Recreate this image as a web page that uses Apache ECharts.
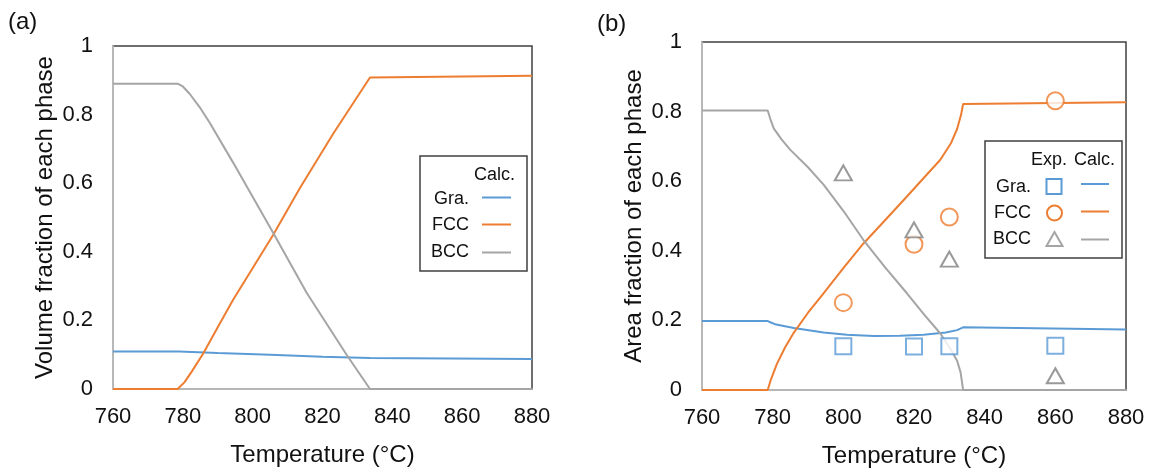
<!DOCTYPE html>
<html>
<head>
<meta charset="utf-8">
<script src="https://cdn.jsdelivr.net/npm/echarts@6/dist/echarts.min.js"></script>
<style>
  html, body { margin: 0; padding: 0; background: #fff; }
  #chart { width: 1151px; height: 475px; }
</style>
</head>
<body>
<div id="chart"></div>
<script>
// calculated curves, [temperature, fraction]
var calcGraA = [[760, 0.109], [779, 0.109], [790, 0.105], [805, 0.1], [820, 0.094], [833.6, 0.0905], [880, 0.0875]];
var calcFccA = [[760, 0], [778.5, 0], [780.5, 0.02], [782.5, 0.05], [785.8, 0.103], [790, 0.18], [794.4, 0.26], [805.9, 0.45], [813.5, 0.585], [823.1, 0.745], [833.6, 0.908], [880, 0.913]];
var calcBccA = [[760, 0.89], [778.5, 0.89], [780, 0.882], [782, 0.86], [784.8, 0.822], [787.7, 0.776], [794.4, 0.66], [805.9, 0.455], [815.5, 0.28], [826.9, 0.1], [833.6, 0], [880, 0]];

var calcGraB = [[760, 0.198], [778.6, 0.198], [779.5, 0.194], [781, 0.188], [786, 0.178], [794.4, 0.165], [801, 0.159], [808.6, 0.155], [816, 0.156], [822.7, 0.159], [829, 0.165], [832.2, 0.172], [833.9, 0.18], [880, 0.174]];
var calcFccB = [[760, 0], [778.6, 0], [779.5, 0.03], [781.2, 0.075], [783.5, 0.122], [786, 0.165], [790, 0.222], [794.4, 0.278], [800, 0.35], [805.7, 0.421], [812, 0.49], [818, 0.556], [823, 0.612], [827.4, 0.661], [830.5, 0.71], [832.2, 0.75], [833.3, 0.79], [833.9, 0.822], [880, 0.827]];
var calcBccB = [[760, 0.803], [778.6, 0.803], [779.3, 0.78], [780.3, 0.752], [782.5, 0.72], [785, 0.69], [790, 0.64], [794.4, 0.59], [800, 0.515], [805.7, 0.431], [812, 0.35], [818, 0.278], [823, 0.215], [827.4, 0.163], [830.5, 0.115], [832.2, 0.084], [833.2, 0.05], [833.9, 0], [880, 0]];

// experimental points
var expTemp = [800, 820, 830, 860];
var expGra = [0.126, 0.125, 0.126, 0.127];
var expFcc = [0.251, 0.419, 0.497, 0.831];
var expBcc = [0.624, 0.46, 0.376, 0.041];

var tempTicks = [760, 780, 800, 820, 840, 860, 880];

var blue = '#5b9bd5', orange = '#ed7d31', gray = '#a5a5a5', triGray = '#7f7f7f';
var font = 'Liberation Sans, Arial, sans-serif';

function pairs(xs, ys) {
  var out = [];
  for (var i = 0; i < xs.length; i++) out.push([xs[i], ys[i]]);
  return out;
}

function xAxisCfg(idx) {
  return {
    gridIndex: idx, type: 'value',
    min: tempTicks[0], max: tempTicks[tempTicks.length - 1], interval: 20,
    name: 'Temperature (°C)', nameLocation: 'middle', nameGap: 54,
    nameTextStyle: { fontFamily: font, fontSize: 24, color: '#111' },
    axisLine: { lineStyle: { color: '#d0d0d0', width: 1.5 } },
    axisTick: { show: false },
    splitLine: { show: false },
    axisLabel: { fontFamily: font, fontSize: 22, color: '#111', margin: 17 }
  };
}
function yAxisCfg(idx, title) {
  return {
    gridIndex: idx, type: 'value', min: 0, max: 1, interval: 0.2,
    name: title, nameLocation: 'middle', nameGap: 56,
    nameTextStyle: { fontFamily: font, fontSize: 24, color: '#111' },
    axisLine: { show: true, lineStyle: { color: '#d0d0d0', width: 1.5 } },
    axisTick: { show: false },
    splitLine: { show: false },
    axisLabel: { fontFamily: font, fontSize: 22, color: '#111', margin: 20 }
  };
}
function lineSeries(name, idx, data, color) {
  return {
    name: name, type: 'line', xAxisIndex: idx, yAxisIndex: idx,
    data: data, showSymbol: false, symbol: 'none',
    lineStyle: { color: color, width: 2 }, z: 2
  };
}
function expSeries(name, ys, symbol, size, color) {
  return {
    name: name, type: 'scatter', xAxisIndex: 1, yAxisIndex: 1,
    data: pairs(expTemp, ys), symbol: symbol, symbolSize: size,
    itemStyle: { color: '#fff', borderColor: color, borderWidth: 2 }, z: 5
  };
}

function txt(x, y, s) {
  return { type: 'text', x: x, y: y, z: 20, style: { text: s, fontFamily: font, fontSize: 18, fill: '#111', align: 'right', verticalAlign: 'middle' } };
}
function seg(x1, x2, y, color) {
  return { type: 'line', z: 20, shape: { x1: x1, y1: y, x2: x2, y2: y }, style: { stroke: color, lineWidth: 2 } };
}

var chart = echarts.init(document.getElementById('chart'));
var option = {
  animation: false,
  backgroundColor: '#fff',
  grid: [
    { left: 113, right: 619, top: 46, bottom: 86, show: true, borderColor: '#404040', borderWidth: 1.5 },
    { left: 702, right: 25, top: 42, bottom: 85, show: true, borderColor: '#404040', borderWidth: 1.5 }
  ],
  xAxis: [xAxisCfg(0), xAxisCfg(1)],
  yAxis: [yAxisCfg(0, 'Volume fraction of each phase'), yAxisCfg(1, 'Area fraction of each phase')],
  series: [
    lineSeries('Gra.', 0, calcGraA, blue),
    lineSeries('FCC', 0, calcFccA, orange),
    lineSeries('BCC', 0, calcBccA, gray),
    lineSeries('Gra. calc', 1, calcGraB, blue),
    lineSeries('FCC calc', 1, calcFccB, orange),
    lineSeries('BCC calc', 1, calcBccB, gray),
    expSeries('Gra. exp', expGra, 'rect', 16, blue),
    expSeries('FCC exp', expFcc, 'circle', 17, orange),
    expSeries('BCC exp', expBcc, 'triangle', [17, 15], triGray)
  ],
  graphic: [
    { type: 'text', x: 8, y: 22, style: { text: '(a)', fontFamily: font, fontSize: 24, fill: '#111', verticalAlign: 'middle' } },
    { type: 'text', x: 597, y: 24, style: { text: '(b)', fontFamily: font, fontSize: 24, fill: '#111', verticalAlign: 'middle' } },
    // legend (a)
    { type: 'rect', z: 10, shape: { x: 420, y: 156, width: 107, height: 115 }, style: { fill: '#fff', stroke: '#404040', lineWidth: 1.5 } },
    txt(515, 175, 'Calc.'),
    txt(469, 199, 'Gra.'), txt(469, 225, 'FCC'), txt(469, 252, 'BCC'),
    seg(482, 511, 197.5, blue), seg(482, 511, 224.5, orange), seg(482, 511, 252.5, gray),
    // legend (b)
    { type: 'rect', z: 10, shape: { x: 985, y: 141, width: 137, height: 117 }, style: { fill: '#fff', stroke: '#404040', lineWidth: 1.5 } },
    txt(1067, 160, 'Exp.'), txt(1115, 160, 'Calc.'),
    txt(1031, 187, 'Gra.'), txt(1031, 213, 'FCC'), txt(1031, 239, 'BCC'),
    { type: 'rect', z: 20, shape: { x: 1046.5, y: 179, width: 15, height: 15 }, style: { fill: '#fff', stroke: blue, lineWidth: 2 } },
    { type: 'circle', z: 20, shape: { cx: 1054.5, cy: 213, r: 7.5 }, style: { fill: '#fff', stroke: orange, lineWidth: 2 } },
    { type: 'polygon', z: 20, shape: { points: [[1054.5, 232], [1046.5, 246], [1062.5, 246]] }, style: { fill: '#fff', stroke: gray, lineWidth: 2 } },
    seg(1081, 1109, 184, blue), seg(1081, 1109, 211.5, orange), seg(1081, 1109, 239.5, gray)
  ]
};
chart.setOption(option);
</script>
</body>
</html>
